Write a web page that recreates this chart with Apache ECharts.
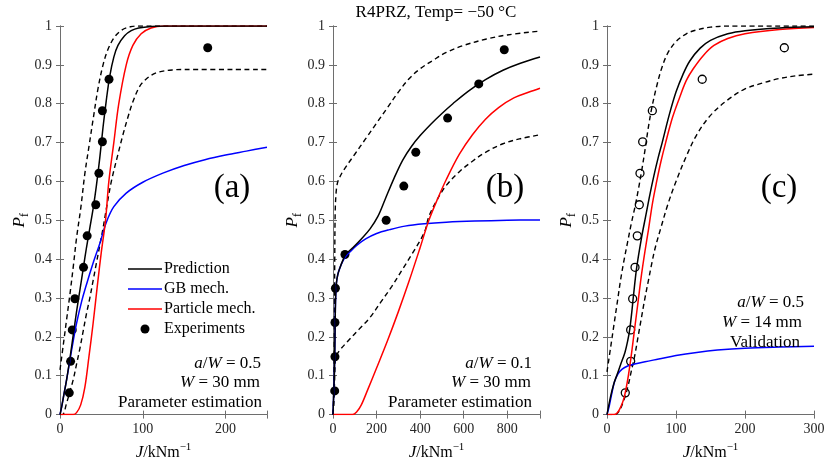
<!DOCTYPE html>
<html>
<head>
<meta charset="utf-8">
<script src="https://cdn.jsdelivr.net/npm/echarts@6/dist/echarts.min.js"></script>
<style>
html, body { margin: 0; padding: 0; background: #fff; }
#chart { width: 830px; height: 466px; }
</style>
</head>
<body>
<div id="chart"></div>
<script>
// ---- Panel (a): a/W = 0.5, W = 30 mm, parameter estimation ----
const aExpJ = [11.2, 12.8, 14.8, 18, 28.4, 32.8, 43.2, 47, 51.2, 51.2, 59.2, 178.4];
const aExpP = [0.056, 0.137, 0.218, 0.298, 0.379, 0.46, 0.54, 0.621, 0.702, 0.782, 0.863, 0.944];
const aPredJ = [0, 2, 5, 8, 12, 16, 20, 24, 28, 32, 36, 40, 44, 48, 52, 56, 60, 65, 70, 78, 86, 95, 110, 130, 250];
const aPredP = [0, 0.02, 0.055, 0.09, 0.145, 0.205, 0.265, 0.32, 0.375, 0.43, 0.48, 0.53, 0.59, 0.66, 0.74, 0.81, 0.87, 0.92, 0.95, 0.975, 0.988, 0.995, 0.999, 1, 1];
const aGbJ = [0, 2, 5, 8, 12, 16, 20, 26, 32, 40, 48, 56, 65, 80, 100, 125, 150, 175, 200, 225, 250];
const aGbP = [0, 0.02, 0.055, 0.09, 0.14, 0.19, 0.235, 0.29, 0.335, 0.39, 0.44, 0.495, 0.535, 0.57, 0.598, 0.622, 0.641, 0.656, 0.668, 0.678, 0.688];
const aPartJ = [0, 16, 20, 25, 30, 35, 40, 45, 50, 55, 59, 65, 71, 80, 88, 98, 110, 125, 250];
const aPartP = [0, 0, 0.005, 0.025, 0.07, 0.15, 0.235, 0.33, 0.42, 0.5, 0.6, 0.7, 0.8, 0.9, 0.95, 0.98, 0.995, 1, 1];
const aUpJ = [0, 4, 8, 12, 16, 20, 25, 30, 35, 40, 46, 52, 58, 66, 75, 85, 95, 250];
const aUpP = [0.115, 0.18, 0.245, 0.31, 0.38, 0.455, 0.53, 0.62, 0.69, 0.76, 0.84, 0.9, 0.94, 0.972, 0.99, 0.998, 1, 1];
const aLoJ = [0, 3, 8, 12, 16, 20, 24, 28, 32, 36, 40, 44, 48, 52, 56, 62, 70, 76, 82, 88, 95, 100, 110, 120, 136, 150, 250];
const aLoP = [0, 0, 0.03, 0.06, 0.09, 0.13, 0.17, 0.215, 0.26, 0.3, 0.345, 0.39, 0.435, 0.48, 0.53, 0.6, 0.67, 0.72, 0.765, 0.805, 0.84, 0.855, 0.873, 0.882, 0.887, 0.888, 0.888];

// ---- Panel (b): a/W = 0.1, W = 30 mm, parameter estimation ----
const bExpJ = [7.8, 9, 9, 11, 55, 244, 325, 380, 526, 669, 786];
const bExpP = [0.061, 0.149, 0.237, 0.325, 0.412, 0.5, 0.588, 0.675, 0.763, 0.851, 0.939];
const bPredJ = [0, 3, 6, 8, 10, 12, 16, 22, 30, 45, 60, 92, 130, 170, 206, 240, 280, 320, 360, 400, 450, 500, 550, 620, 700, 780, 860, 950];
const bPredP = [0, 0.05, 0.1, 0.16, 0.24, 0.3, 0.34, 0.36, 0.375, 0.397, 0.413, 0.43, 0.452, 0.478, 0.51, 0.555, 0.608, 0.655, 0.69, 0.718, 0.748, 0.775, 0.8, 0.832, 0.862, 0.886, 0.904, 0.92];
const bGbJ = [0, 3, 6, 8, 10, 12, 16, 22, 30, 45, 60, 80, 110, 150, 200, 260, 330, 420, 520, 650, 800, 950];
const bGbP = [0, 0.05, 0.1, 0.16, 0.24, 0.3, 0.34, 0.36, 0.375, 0.395, 0.408, 0.42, 0.436, 0.452, 0.466, 0.476, 0.485, 0.491, 0.495, 0.498, 0.5, 0.501];
const bPartJ = [0, 90, 110, 130, 160, 200, 250, 300, 350, 400, 440, 480, 520, 580, 640, 700, 760, 830, 900, 950];
const bPartP = [0, 0, 0.008, 0.025, 0.065, 0.12, 0.19, 0.265, 0.345, 0.43, 0.5, 0.555, 0.605, 0.67, 0.72, 0.76, 0.79, 0.815, 0.83, 0.84];
const bUpJ = [0, 3, 6, 8, 10, 14, 20, 30, 50, 100, 150, 200, 250, 300, 350, 400, 460, 520, 600, 700, 800, 950];
const bUpP = [0, 0.05, 0.2, 0.4, 0.52, 0.57, 0.595, 0.61, 0.63, 0.67, 0.71, 0.75, 0.79, 0.83, 0.865, 0.89, 0.912, 0.932, 0.95, 0.966, 0.977, 0.987];
const bLoJ = [0, 4, 7, 10, 14, 30, 70, 120, 170, 220, 270, 320, 370, 420, 440, 480, 520, 580, 640, 700, 780, 860, 950];
const bLoP = [0, 0.03, 0.08, 0.13, 0.15, 0.165, 0.19, 0.22, 0.25, 0.29, 0.33, 0.375, 0.42, 0.47, 0.51, 0.555, 0.59, 0.625, 0.652, 0.675, 0.697, 0.71, 0.72];

// ---- Panel (c): a/W = 0.5, W = 14 mm, validation ----
const cExpJ = [26.5, 34.3, 34.3, 37.2, 40.6, 43.9, 46.8, 47.8, 51.7, 65.7, 138, 257];
const cExpP = [0.056, 0.137, 0.218, 0.298, 0.379, 0.46, 0.54, 0.621, 0.702, 0.782, 0.863, 0.944];
const cPredJ = [0, 5, 10, 14, 20, 26, 30, 33, 36, 38, 43, 50, 56, 62, 68, 74, 80, 90, 100, 110, 120, 135, 150, 175, 200, 250, 300];
const cPredP = [0, 0.045, 0.08, 0.1, 0.13, 0.16, 0.19, 0.22, 0.265, 0.3, 0.378, 0.455, 0.51, 0.565, 0.615, 0.66, 0.7, 0.77, 0.83, 0.875, 0.91, 0.943, 0.963, 0.98, 0.988, 0.995, 0.998];
const cGbJ = [0, 3, 7, 11, 16, 22, 30, 40, 55, 75, 100, 130, 160, 200, 250, 300];
const cGbP = [0, 0.02, 0.055, 0.085, 0.105, 0.117, 0.125, 0.13, 0.136, 0.143, 0.152, 0.16, 0.166, 0.171, 0.174, 0.176];
const cPartJ = [0, 10, 15, 20, 25, 30, 35, 40, 45, 50, 55, 60, 66, 72, 78, 85, 95, 105, 115, 125, 140, 155, 175, 200, 250, 300];
const cPartP = [0, 0, 0.005, 0.02, 0.045, 0.09, 0.15, 0.22, 0.29, 0.36, 0.42, 0.475, 0.545, 0.6, 0.65, 0.7, 0.765, 0.815, 0.86, 0.89, 0.925, 0.95, 0.968, 0.98, 0.991, 0.996];
const cUpJ = [0, 5, 10, 15, 20, 25, 30, 35, 40, 45, 50, 55, 60, 65, 72, 79, 88, 100, 115, 130, 150, 175, 300];
const cUpP = [0.11, 0.17, 0.23, 0.29, 0.35, 0.4, 0.445, 0.49, 0.53, 0.575, 0.625, 0.68, 0.74, 0.79, 0.845, 0.89, 0.93, 0.96, 0.98, 0.99, 0.997, 1, 1];
const cLoJ = [0, 12, 18, 25, 30, 35, 40, 45, 50, 55, 60, 65, 70, 78, 88, 100, 115, 130, 150, 175, 200, 225, 250, 275, 300];
const cLoP = [0, 0, 0.01, 0.04, 0.07, 0.11, 0.15, 0.2, 0.25, 0.3, 0.345, 0.39, 0.43, 0.48, 0.54, 0.6, 0.665, 0.72, 0.77, 0.81, 0.838, 0.853, 0.865, 0.872, 0.876];

// Axis ranges and tick steps per panel
const xMaxes = [250, 950, 300];
const xSteps = [100, 200, 100];
const panelTags = ['(a)', '(b)', '(c)'];

const FONT = 'Liberation Serif';
const AXIS_GRAY = '#6e6e6e';
const TEXT_DARK = '#262626';

const pairs = (xs, ys) => xs.map((x, i) => [x, ys[i]]);

const panels = [
  { pred: [aPredJ, aPredP], gb: [aGbJ, aGbP], part: [aPartJ, aPartP], up: [aUpJ, aUpP], lo: [aLoJ, aLoP], exp: [aExpJ, aExpP], hollow: false },
  { pred: [bPredJ, bPredP], gb: [bGbJ, bGbP], part: [bPartJ, bPartP], up: [bUpJ, bUpP], lo: [bLoJ, bLoP], exp: [bExpJ, bExpP], hollow: false },
  { pred: [cPredJ, cPredP], gb: [cGbJ, cGbP], part: [cPartJ, cPartP], up: [cUpJ, cUpP], lo: [cLoJ, cLoP], exp: [cExpJ, cExpP], hollow: true }
];

const gridLefts = [60, 333, 607];
const grids = gridLefts.map(l => ({ left: l, top: 26, width: 207, height: 397 }));

const nameRich = {
  i: { fontFamily: FONT, fontStyle: 'italic', fontSize: 17, color: '#000', lineHeight: 22, verticalAlign: 'middle' },
  n: { fontFamily: FONT, fontSize: 16, color: '#000', lineHeight: 22, verticalAlign: 'middle' },
  sup: { fontFamily: FONT, fontSize: 11, color: '#000', lineHeight: 12, verticalAlign: 'top' },
  sub: { fontFamily: FONT, fontSize: 12, color: '#000', lineHeight: 12, verticalAlign: 'bottom' }
};

const xAxes = [];
const yAxes = [];
grids.forEach((g, k) => {
  const common = {
    gridIndex: k, type: 'value', min: 0, max: xMaxes[k], interval: xSteps[k],
    axisLine: { show: true, lineStyle: { color: AXIS_GRAY, width: 1 } },
    axisTick: { show: true, inside: true, length: 4, lineStyle: { color: AXIS_GRAY } },
    splitLine: { show: false }
  };
  xAxes.push(Object.assign({}, common, {
    position: 'bottom',
    axisLabel: {
      fontFamily: FONT, fontSize: 14, color: TEXT_DARK, margin: 8,
      // only label the regular tick positions
      formatter: v => (v % xSteps[k] === 0 ? String(v) : '')
    },
    name: '{i|J}{n|/kNm}{sup|−1}',
    nameLocation: 'middle', nameGap: 21,
    nameTextStyle: { rich: nameRich }
  }));
  xAxes.push(Object.assign({}, common, { position: 'top', axisLabel: { show: false } }));

  const ycommon = {
    gridIndex: k, type: 'value', min: 0, max: 1, interval: 0.1,
    axisLine: { show: true, lineStyle: { color: AXIS_GRAY, width: 1 } },
    axisTick: { show: true, inside: true, length: 4, lineStyle: { color: AXIS_GRAY } },
    splitLine: { show: false }
  };
  yAxes.push(Object.assign({}, ycommon, {
    position: 'left',
    axisLabel: { fontFamily: FONT, fontSize: 14, color: TEXT_DARK, margin: 8,
      formatter: v => (Math.round(v * 10) / 10).toString() },
    name: '{i|P}{sub|f}',
    nameLocation: 'middle', nameGap: 20, nameRotate: 90,
    nameTextStyle: { rich: nameRich }
  }));
  yAxes.push(Object.assign({}, ycommon, { position: 'right', axisLabel: { show: false } }));
});

const series = [];
panels.forEach((p, k) => {
  const axes = { xAxisIndex: 2 * k, yAxisIndex: 2 * k };
  const lineBase = Object.assign({ type: 'line', showSymbol: false, symbol: 'none', smooth: 0.35, animation: false, silent: true }, axes);
  series.push(Object.assign({}, lineBase, { name: 'Upper bound', data: pairs(p.up[0], p.up[1]), lineStyle: { color: '#000', width: 1.4, type: [5, 3.5] }, itemStyle: { color: '#000' } }));
  series.push(Object.assign({}, lineBase, { name: 'Lower bound', data: pairs(p.lo[0], p.lo[1]), lineStyle: { color: '#000', width: 1.4, type: [5, 3.5] }, itemStyle: { color: '#000' } }));
  series.push(Object.assign({}, lineBase, { name: 'GB mech.', data: pairs(p.gb[0], p.gb[1]), lineStyle: { color: '#0000ff', width: 1.5 }, itemStyle: { color: '#0000ff' } }));
  series.push(Object.assign({}, lineBase, { name: 'Particle mech.', data: pairs(p.part[0], p.part[1]), lineStyle: { color: '#ff0000', width: 1.5 }, itemStyle: { color: '#ff0000' } }));
  series.push(Object.assign({}, lineBase, { name: 'Prediction', data: pairs(p.pred[0], p.pred[1]), lineStyle: { color: '#000', width: 1.5 }, itemStyle: { color: '#000' } }));
  series.push(Object.assign({
    type: 'scatter', name: p.hollow ? 'Validation data' : 'Experiments',
    data: pairs(p.exp[0], p.exp[1]), symbol: 'circle',
    symbolSize: p.hollow ? 8 : 9, animation: false, silent: true,
    itemStyle: p.hollow
      ? { color: 'rgba(0,0,0,0)', borderColor: '#000', borderWidth: 1.3, opacity: 1 }
      : { color: '#000', opacity: 1 }
  }, axes));
});

// Annotations placed inside each panel
const annRich = {
  i: { fontFamily: FONT, fontStyle: 'italic', fontSize: 17, color: '#000' }
};
function annText(x, y, text) {
  return {
    type: 'text', x: x, y: y, z: 100,
    style: { text: text, fontFamily: FONT, fontSize: 17, fill: '#000', align: 'right', verticalAlign: 'middle', rich: annRich }
  };
}
const graphics = [
  { type: 'text', x: 436, y: 13, style: { text: 'R4PRZ, Temp= −50 °C', fontFamily: FONT, fontSize: 17, fill: '#000', align: 'center', verticalAlign: 'middle' } },
  annText(261, 364, '{i|a}/{i|W} = 0.5'),
  annText(260, 383, '{i|W} = 30 mm'),
  annText(262, 403, 'Parameter estimation'),
  annText(532, 364, '{i|a}/{i|W} = 0.1'),
  annText(531, 383, '{i|W} = 30 mm'),
  annText(532, 403, 'Parameter estimation'),
  annText(804, 303, '{i|a}/{i|W} = 0.5'),
  annText(802, 323, '{i|W} = 14 mm'),
  annText(800, 343, 'Validation')
];
panelTags.forEach((t, k) => {
  graphics.push({ type: 'text', x: gridLefts[k] + 172, y: 188, z: 100,
    style: { text: t, fontFamily: FONT, fontSize: 33, fill: '#000', align: 'center', verticalAlign: 'middle' } });
});

// Legend icons: a thin bar for the curves, a dot for the measurements
const lineIcon = 'path://M0,0 H40 V1.6 H0 Z';

const chart = echarts.init(document.getElementById('chart'), null, { renderer: 'canvas' });
chart.setOption({
  backgroundColor: '#ffffff',
  animation: false,
  grid: grids,
  xAxis: xAxes,
  yAxis: yAxes,
  legend: {
    left: 128, top: 259, orient: 'vertical', padding: 0,
    itemWidth: 34, itemHeight: 9, itemGap: 0,
    selectedMode: false,
    textStyle: { fontFamily: FONT, fontSize: 16, color: '#000', lineHeight: 20, padding: [0, 0, 0, -3] },
    data: [
      { name: 'Prediction', icon: lineIcon },
      { name: 'GB mech.', icon: lineIcon },
      { name: 'Particle mech.', icon: lineIcon },
      { name: 'Experiments', icon: 'circle' }
    ]
  },
  series: series,
  graphic: graphics
});
</script>
</body>
</html>
